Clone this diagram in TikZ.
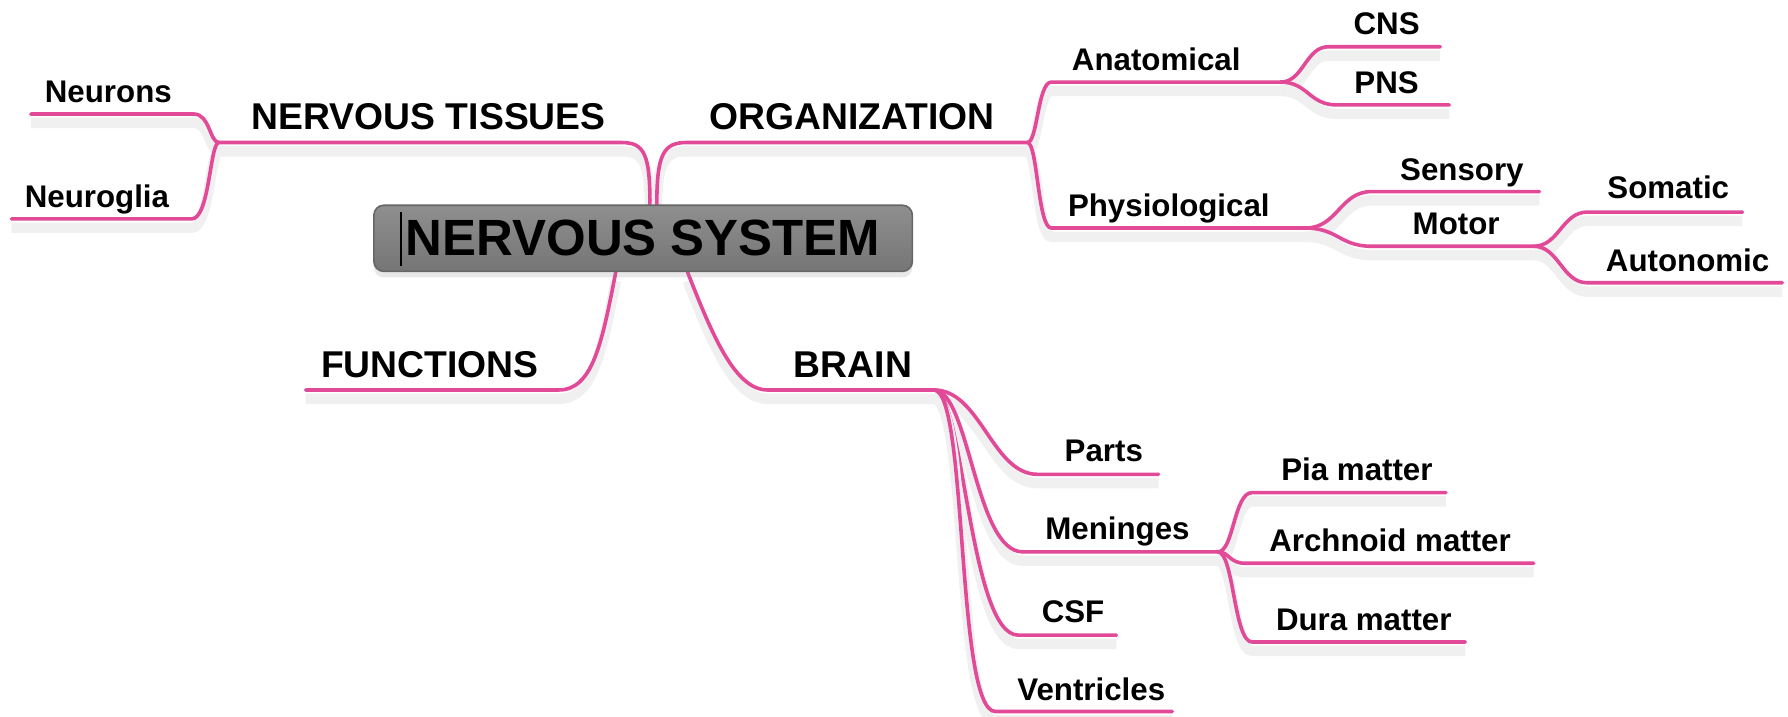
\documentclass[tikz,border=0pt]{standalone}
\usepackage{fontspec}
\setmainfont{Liberation Sans}
\usetikzlibrary{calc,shadows,backgrounds}

\definecolor{mappink}{RGB}{226,74,152}

\tikzset{
  branch/.style={draw=mappink, line width=0.9pt, line cap=round,
    preaction={draw=black!6, line width=2.6pt, transform canvas={yshift=-2.2pt}}},
  toplabel/.style={anchor=base, inner sep=0pt, font=\fontsize{9.3}{11}\selectfont\bfseries},
  sublabel/.style={anchor=base, inner sep=0pt, font=\fontsize{7.8}{9}\selectfont\bfseries},
  rootbox/.style={draw=black!60, rounded corners=2.5pt, top color=black!44, bottom color=black!54,
    minimum width=4.72cm, minimum height=0.58cm, inner sep=0pt,
    drop shadow={opacity=0.18, shadow xshift=0pt, shadow yshift=-1.5pt},
    font=\fontsize{12.7}{15}\selectfont\bfseries},
}

\begin{document}
\begin{tikzpicture}[x=0.01cm, y=-0.01cm]
    \useasboundingbox (0,0) rectangle (1568,628);

    % Junctions
    \coordinate (tissJ) at (192,125);
    \coordinate (orgJ) at (901,125);
    \coordinate (anaJ) at (1123,72);
    \coordinate (phyJ) at (1145,200);
    \coordinate (motJ) at (1345,216);
    \coordinate (brainJ) at (819,342);
    \coordinate (menJ) at (1068,484);

    % Free ends of the underlines
    \coordinate (neuronsE) at (27,100);
    \coordinate (gliaE) at (10,192);
    \coordinate (cnsE) at (1263,41);
    \coordinate (pnsE) at (1271,92);
    \coordinate (sensE) at (1350,168);
    \coordinate (somE) at (1528,186);
    \coordinate (autE) at (1563,248);
    \coordinate (funcE) at (268,342);
    \coordinate (partsE) at (1016,416);
    \coordinate (csfE) at (979,557);
    \coordinate (ventE) at (1028,624);
    \coordinate (piaE) at (1268,432);
    \coordinate (archE) at (1345,494);
    \coordinate (duraE) at (1285,563);

    % Central topic
    \node[rootbox] (root) at (564,209) {NERVOUS SYSTEM};
    \draw[black, line width=0.5pt] (352,186) -- (352,233);

    \begin{scope}[on background layer]
    % Main branches
    \draw[branch] ($(root.north)+(6,0)$) .. controls (570,135) and (565,125) .. (545,125) -- (tissJ);
    \draw[branch] ($(root.north)+(12,0)$) .. controls (576,135) and (582,125) .. (602,125) -- (orgJ);
    \draw[branch] ($(root.south)+(-24,0)$) .. controls (528,300) and (520,342) .. (490,342) -- (funcE);
    \draw[branch] ($(root.south)+(39,0)$) .. controls (625,295) and (645,342) .. (673,342) -- (brainJ);

    % Nervous tissues
    \draw[branch] (tissJ) .. controls (184,125) and (184,100) .. (170,100) -- (neuronsE);
    \draw[branch] (tissJ) .. controls (184,125) and (184,192) .. (168,192) -- (gliaE);

    % Organization
    \draw[branch] (orgJ) .. controls (910,125) and (910,72) .. (922,72) -- (anaJ);
    \draw[branch] (orgJ) .. controls (910,125) and (910,200) .. (922,200) -- (phyJ);
    \draw[branch] (anaJ) .. controls +(20,0) and +(-20,0) .. (1165,41) -- (cnsE);
    \draw[branch] (anaJ) .. controls +(24,0) and +(-24,0) .. (1172,92) -- (pnsE);
    \draw[branch] (phyJ) .. controls +(28,0) and +(-28,0) .. (1203,168) -- (sensE);
    \draw[branch] (phyJ) .. controls +(28,0) and +(-28,0) .. (1203,216) -- (motJ);
    \draw[branch] (motJ) .. controls +(22,0) and +(-22,0) .. (1392,186) -- (somE);
    \draw[branch] (motJ) .. controls +(22,0) and +(-22,0) .. (1392,248) -- (autE);

    % Brain
    \draw[branch] (brainJ) .. controls (860,342) and (870,416) .. (910,416) -- (partsE);
    \draw[branch] (brainJ) .. controls (850,342) and (855,484) .. (897,484) -- (menJ);
    \draw[branch] (brainJ) .. controls (845,342) and (850,557) .. (893,557) -- (csfE);
    \draw[branch] (brainJ) .. controls (849,342) and (838,624) .. (873,624) -- (ventE);
    \draw[branch] (menJ) .. controls (1082,484) and (1082,432) .. (1098,432) -- (piaE);
    \draw[branch] (menJ) .. controls (1078,484) and (1078,494) .. (1092,494) -- (archE);
    \draw[branch] (menJ) .. controls (1082,484) and (1082,563) .. (1098,563) -- (duraE);
    \end{scope}

    % Labels
    \node[toplabel] (tissues) at (376,114) {NERVOUS TISSUES};
    \node[toplabel] (organization) at (747,114) {ORGANIZATION};
    \node[toplabel] (functions) at (377,331) {FUNCTIONS};
    \node[toplabel] (brain) at (748,331) {BRAIN};
    \node[sublabel] (neurons) at (95,90) {Neurons};
    \node[sublabel] (neuroglia) at (85,182) {Neuroglia};
    \node[sublabel] (anatomical) at (1014,62) {Anatomical};
    \node[sublabel] (cns) at (1216,30) {CNS};
    \node[sublabel] (pns) at (1216,82) {PNS};
    \node[sublabel] (physiological) at (1025,190) {Physiological};
    \node[sublabel] (sensory) at (1282,158) {Sensory};
    \node[sublabel] (motor) at (1277,206) {Motor};
    \node[sublabel] (somatic) at (1463,174) {Somatic};
    \node[sublabel] (autonomic) at (1480,238) {Autonomic};
    \node[sublabel] (parts) at (968,405) {Parts};
    \node[sublabel] (meninges) at (980,473) {Meninges};
    \node[sublabel] (pia) at (1190,421) {Pia matter};
    \node[sublabel] (archnoid) at (1219,484) {Archnoid matter};
    \node[sublabel] (csf) at (941,546) {CSF};
    \node[sublabel] (dura) at (1196,553) {Dura matter};
    \node[sublabel] (ventricles) at (957,614) {Ventricles};
\end{tikzpicture}
\end{document}
